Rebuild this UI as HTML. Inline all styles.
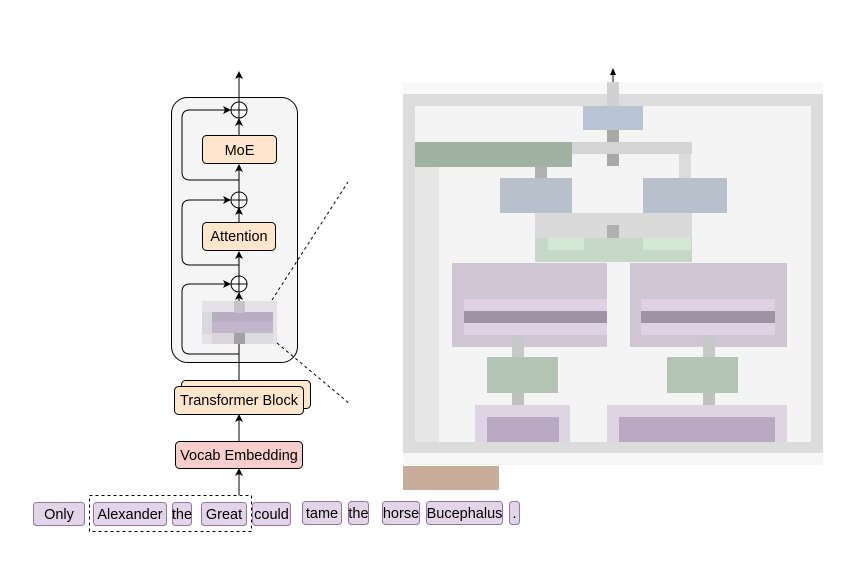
<!DOCTYPE html>
<html><head><meta charset="utf-8"><style>
html,body{margin:0;padding:0;background:#fff;}
svg{display:block;font-family:"Liberation Sans",Arial,sans-serif;}
</style></head><body>
<svg width="866" height="567" viewBox="0 0 866 567" xmlns="http://www.w3.org/2000/svg">
<defs>
<marker id="ar" markerWidth="8" markerHeight="8" refX="7" refY="4" orient="auto" markerUnits="userSpaceOnUse">
<path d="M0,0 L8,4 L0,8 L2,4 Z" fill="#000"/></marker>
</defs>
<rect x="171.5" y="97.5" width="126" height="265" rx="16" fill="#f5f5f5" stroke="#000" stroke-width="1"/>
<line x1="239" y1="386" x2="239" y2="293" stroke="#000" marker-end="url(#ar)"/>
<line x1="239" y1="276" x2="239" y2="252" stroke="#000" marker-end="url(#ar)"/>
<line x1="239" y1="222" x2="239" y2="208" stroke="#000" marker-end="url(#ar)"/>
<line x1="239" y1="192" x2="239" y2="165" stroke="#000" marker-end="url(#ar)"/>
<line x1="239" y1="135" x2="239" y2="119" stroke="#000" marker-end="url(#ar)"/>
<line x1="239" y1="102" x2="239" y2="72" stroke="#000" marker-end="url(#ar)"/>
<path d="M239,180 L190,180 Q182,180 182,172 L182,118 Q182,110 190,110 L230,110" fill="none" stroke="#000" marker-end="url(#ar)"/>
<path d="M239,265 L190,265 Q182,265 182,257 L182,208 Q182,200 190,200 L230,200" fill="none" stroke="#000" marker-end="url(#ar)"/>
<path d="M239,354 L190,354 Q182,354 182,346 L182,292 Q182,284 190,284 L230,284" fill="none" stroke="#000" marker-end="url(#ar)"/>
<g fill="#fff" stroke="#000">
<circle cx="239" cy="110" r="8"/><circle cx="239" cy="200" r="8"/><circle cx="239" cy="284" r="8"/>
</g>
<g stroke="#000"><line x1="231" y1="110" x2="247" y2="110"/><line x1="239" y1="102" x2="239" y2="118"/>
<line x1="231" y1="200" x2="247" y2="200"/><line x1="239" y1="192" x2="239" y2="208"/>
<line x1="231" y1="284" x2="247" y2="284"/><line x1="239" y1="276" x2="239" y2="292"/></g>
<rect x="202.5" y="135.5" width="74" height="28" rx="4" fill="#ffe6cc" stroke="#000"/>
<text x="239.5" y="155" font-size="14.5" text-anchor="middle">MoE</text>
<rect x="202.5" y="222.5" width="73" height="28" rx="4" fill="#ffe6cc" stroke="#000"/>
<text x="239" y="241" font-size="14.5" text-anchor="middle">Attention</text>
<rect x="202" y="301" width="75" height="43" fill="#e4e2e6"/>
<rect x="202" y="312" width="10" height="22" fill="#d8d8dc"/>
<rect x="212" y="312" width="61" height="10" fill="#b9adc2"/>
<rect x="212" y="322" width="61" height="11" fill="#c2b6cb"/>
<rect x="234" y="301" width="11" height="12" fill="#c4c4c6"/>
<rect x="234" y="333" width="11" height="11" fill="#a2a2a4"/>
<rect x="212" y="333" width="22" height="11" fill="#d8d6da"/>
<rect x="245" y="333" width="28" height="11" fill="#dcdcde"/>
<line x1="239" y1="344" x2="239" y2="354" stroke="#000"/>
<line x1="272" y1="300" x2="348" y2="182" stroke="#000" stroke-dasharray="3,3"/>
<line x1="277" y1="343" x2="350" y2="404" stroke="#000" stroke-dasharray="3,3"/>
<rect x="181.5" y="380.5" width="129" height="28" rx="4" fill="#ffe6cc" stroke="#000"/>
<rect x="174.5" y="386.5" width="129" height="28" rx="4" fill="#ffe6cc" stroke="#000"/>
<text x="239" y="405" font-size="14.5" text-anchor="middle">Transformer Block</text>
<line x1="239" y1="441" x2="239" y2="415" stroke="#000" marker-end="url(#ar)"/>
<rect x="175.5" y="441.5" width="127" height="27" rx="4" fill="#f8cecc" stroke="#000"/>
<text x="239" y="460" font-size="14.5" text-anchor="middle">Vocab Embedding</text>
<line x1="239" y1="495" x2="239" y2="469" stroke="#000" marker-end="url(#ar)"/>
<rect x="89.5" y="495.5" width="162" height="36" fill="none" stroke="#000" stroke-dasharray="3,3"/>
<g fill="#e1d5e7" stroke="#9673a6">
<rect x="33.5" y="502.5" width="51" height="23" rx="3"/>
<rect x="93.5" y="502.5" width="73" height="23" rx="3"/>
<rect x="172.5" y="502.5" width="19" height="23" rx="3"/>
<rect x="201.5" y="502.5" width="45" height="23" rx="3"/>
<rect x="252.5" y="502.5" width="38" height="23" rx="3"/>
<rect x="302.5" y="501.5" width="39" height="23" rx="3"/>
<rect x="348.5" y="501.5" width="20" height="23" rx="3"/>
<rect x="382.5" y="501.5" width="37" height="23" rx="3"/>
<rect x="426.5" y="501.5" width="76" height="23" rx="3"/>
<rect x="509.5" y="501.5" width="10" height="23" rx="3"/>
</g>
<g font-size="14.5" text-anchor="middle">
<text x="59" y="519">Only</text><text x="130" y="519">Alexander</text><text x="182" y="519">the</text>
<text x="224" y="519">Great</text><text x="271.5" y="519">could</text><text x="322" y="518">tame</text>
<text x="358.5" y="518">the</text><text x="401" y="518">horse</text><text x="464.5" y="518">Bucephalus</text>
<text x="514.5" y="518">.</text>
</g>
<rect x="403" y="82" width="420" height="12" fill="#f8f8f8"/>
<rect x="403" y="94" width="420" height="360" fill="#dcdcdc"/>
<rect x="415" y="106" width="396" height="336" fill="#f4f4f4"/>
<rect x="415" y="166" width="24" height="276" fill="#e6e6e6"/>
<rect x="403" y="453" width="420" height="12" fill="#f6f6f6"/>
<rect x="403" y="466" width="96" height="24" fill="#c8ad9b"/>
<rect x="607" y="82" width="12" height="24" fill="#d0d0d0"/>
<line x1="613" y1="82" x2="613" y2="71" stroke="#000"/>
<path d="M610,75 L613,68 L616,75 Z" fill="#000"/>
<rect x="583" y="106" width="60" height="24" fill="#b8c4d4"/>
<rect x="607" y="130" width="12" height="36" fill="#a8a8a8"/>
<rect x="415" y="142" width="157" height="25" fill="#a2b2a2"/>
<rect x="572" y="142" width="120" height="12" fill="#d4d4d4"/>
<rect x="679" y="154" width="12" height="24" fill="#dcdcdc"/>
<rect x="535" y="166" width="12" height="12" fill="#b0b0b0"/>
<rect x="500" y="178" width="72" height="35" fill="#b8c0cc"/>
<rect x="643" y="178" width="84" height="35" fill="#b8c0cc"/>
<rect x="535" y="213" width="157" height="25" fill="#dadada"/>
<rect x="607" y="225" width="12" height="13" fill="#b0b0b0"/>
<rect x="535" y="238" width="157" height="24" fill="#c8d8c8"/>
<rect x="548" y="238" width="36" height="12" fill="#d4e8d4"/>
<rect x="643" y="238" width="48" height="12" fill="#d4e8d4"/>
<rect x="452" y="263" width="155" height="84" fill="#cec6d4"/>
<rect x="630" y="263" width="157" height="84" fill="#cec6d4"/>
<rect x="464" y="299" width="143" height="12" fill="#dfd0e4"/>
<rect x="641" y="299" width="134" height="12" fill="#dfd0e4"/>
<rect x="464" y="311" width="143" height="12" fill="#9e92a4"/>
<rect x="641" y="311" width="134" height="12" fill="#9e92a4"/>
<rect x="464" y="323" width="143" height="12" fill="#e0d2e6"/>
<rect x="641" y="323" width="134" height="12" fill="#e0d2e6"/>
<rect x="512" y="335" width="12" height="22" fill="#c8c8c8"/>
<rect x="703" y="335" width="12" height="22" fill="#c8c8c8"/>
<rect x="487" y="357" width="71" height="36" fill="#b4c4b4"/>
<rect x="667" y="357" width="71" height="36" fill="#b4c4b4"/>
<rect x="512" y="393" width="12" height="12" fill="#c0c0c0"/>
<rect x="703" y="393" width="12" height="12" fill="#c0c0c0"/>
<rect x="475" y="405" width="95" height="37" fill="#ddd4e4"/>
<rect x="607" y="405" width="180" height="37" fill="#ddd4e4"/>
<rect x="487" y="417" width="72" height="25" fill="#bba9c4"/>
<rect x="619" y="417" width="156" height="25" fill="#bba9c4"/>
</svg>
</body></html>
